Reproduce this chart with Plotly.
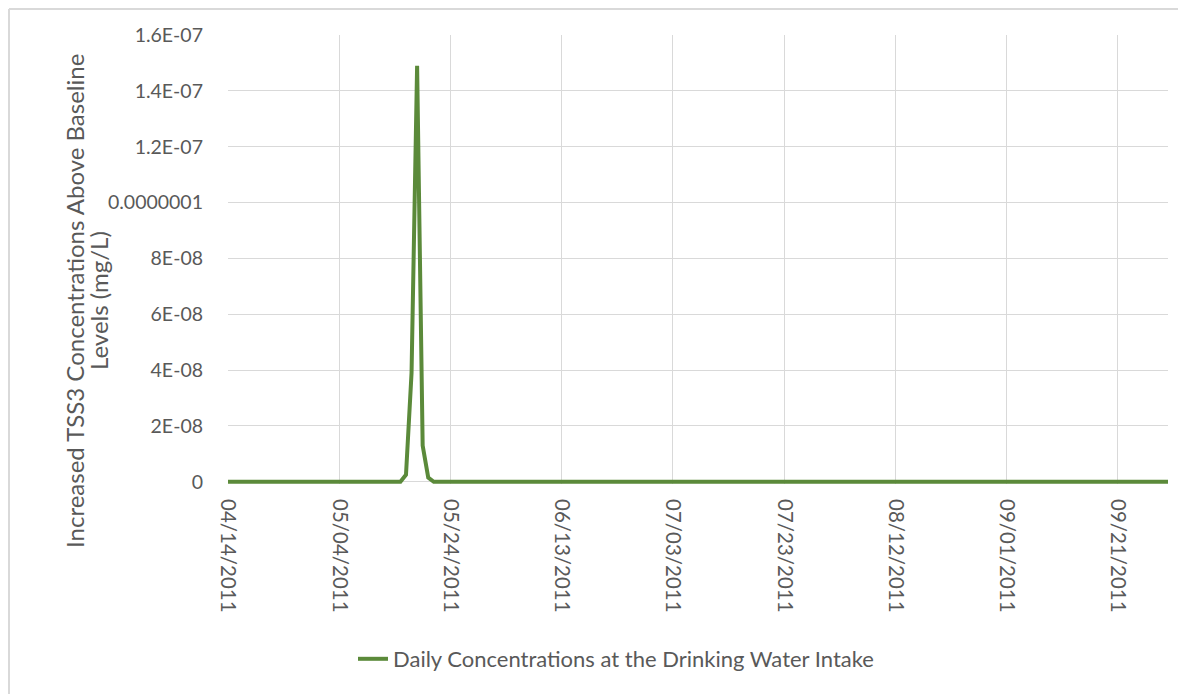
import pandas as pd
import plotly.graph_objects as go

# daily series, 04/14/2011 .. 09/30/2011
dates = pd.date_range("2011-04-14", "2011-09-30", freq="D")
before_peak = [0.0] * 32
peak_values = [2.5e-9, 3.9e-8, 1.49e-7, 1.3e-8, 1.5e-9]
after_peak = [0.0] * 133
values = before_peak + peak_values + after_peak

y_tickvals = [0, 2e-8, 4e-8, 6e-8, 8e-8, 1e-7, 1.2e-7, 1.4e-7, 1.6e-7]
y_ticktext = ["0", "2E-08", "4E-08", "6E-08", "8E-08", "0.0000001",
              "1.2E-07", "1.4E-07", "1.6E-07"]

series_name = "Daily Concentrations at the Drinking Water Intake"
y_title_lines = ["Increased TSS3 Concentrations Above Baseline", "Levels (mg/L)"]

text_grey = "#595959"
grid_grey = "#d9d9d9"
green = "#5b8a3a"
font_family = "Lato, 'Open Sans', sans-serif"

# plot area in figure pixels (page has an 8px body margin)
L, R, T, B = 220, 18, 27, 210
W, H = 1178, 686
pw, ph = W - L - R, H - T - B

fig = go.Figure()
fig.add_trace(
    go.Scatter(
        x=dates, y=values, mode="lines", name=series_name,
        line={"color": green, "width": 4},
    )
)

fig.update_layout(
    width=W, height=H,
    margin={"l": L, "r": R, "t": T, "b": B},
    paper_bgcolor="white", plot_bgcolor="white",
    font={"family": font_family, "size": 18, "color": text_grey},
    showlegend=True,
    legend={
        "orientation": "h", "x": (616 - 228) / pw, "xanchor": "center",
        "y": -(651 - (H - B)) / ph, "yanchor": "middle",
        "font": {"size": 22, "color": text_grey},
    },
    xaxis={
        "type": "date",
        "range": [dates[0], dates[-1]],
        "tick0": "2011-04-14", "dtick": 20 * 86400000,
        "tickformat": "%m/%d/%Y", "tickangle": 90,
        "showgrid": True, "gridcolor": grid_grey, "gridwidth": 1,
        "zeroline": False, "showline": False, "ticks": "",
        "ticklabelstandoff": 14,
        "tickfont": {"size": 20.5, "color": text_grey},
    },
    yaxis={
        "range": [-8e-10, 1.6e-7],
        "tickvals": y_tickvals, "ticktext": y_ticktext,
        "showgrid": True, "gridcolor": grid_grey, "gridwidth": 1,
        "zeroline": False, "showline": False, "ticks": "",
        "ticklabelstandoff": 24,
        "tickfont": {"size": 19.5, "color": text_grey},
    },
    shapes=[
        {"type": "line", "xref": "paper", "yref": "paper",
         "x0": (1 - L) / pw, "x1": (W - L) / pw,
         "y0": 1 + (T - 1) / ph, "y1": 1 + (T - 1) / ph,
         "line": {"color": grid_grey, "width": 2}},
        {"type": "line", "xref": "paper", "yref": "paper",
         "x0": (1 - L) / pw, "x1": (1 - L) / pw,
         "y0": 1 + (T - 1) / ph, "y1": -B / ph,
         "line": {"color": grid_grey, "width": 2}},
    ],
    annotations=[
        {"text": y_title_lines[0], "xref": "paper", "yref": "paper",
         "x": (66 - L) / pw, "y": 1 - (293 - T) / ph, "textangle": -90,
         "showarrow": False, "xanchor": "center", "yanchor": "middle",
         "font": {"size": 24, "color": text_grey}},
        {"text": y_title_lines[1], "xref": "paper", "yref": "paper",
         "x": (90 - L) / pw, "y": 1 - (293 - T) / ph, "textangle": -90,
         "showarrow": False, "xanchor": "center", "yanchor": "middle",
         "font": {"size": 24, "color": text_grey}},
    ],
)

fig.write_html("out.html")
